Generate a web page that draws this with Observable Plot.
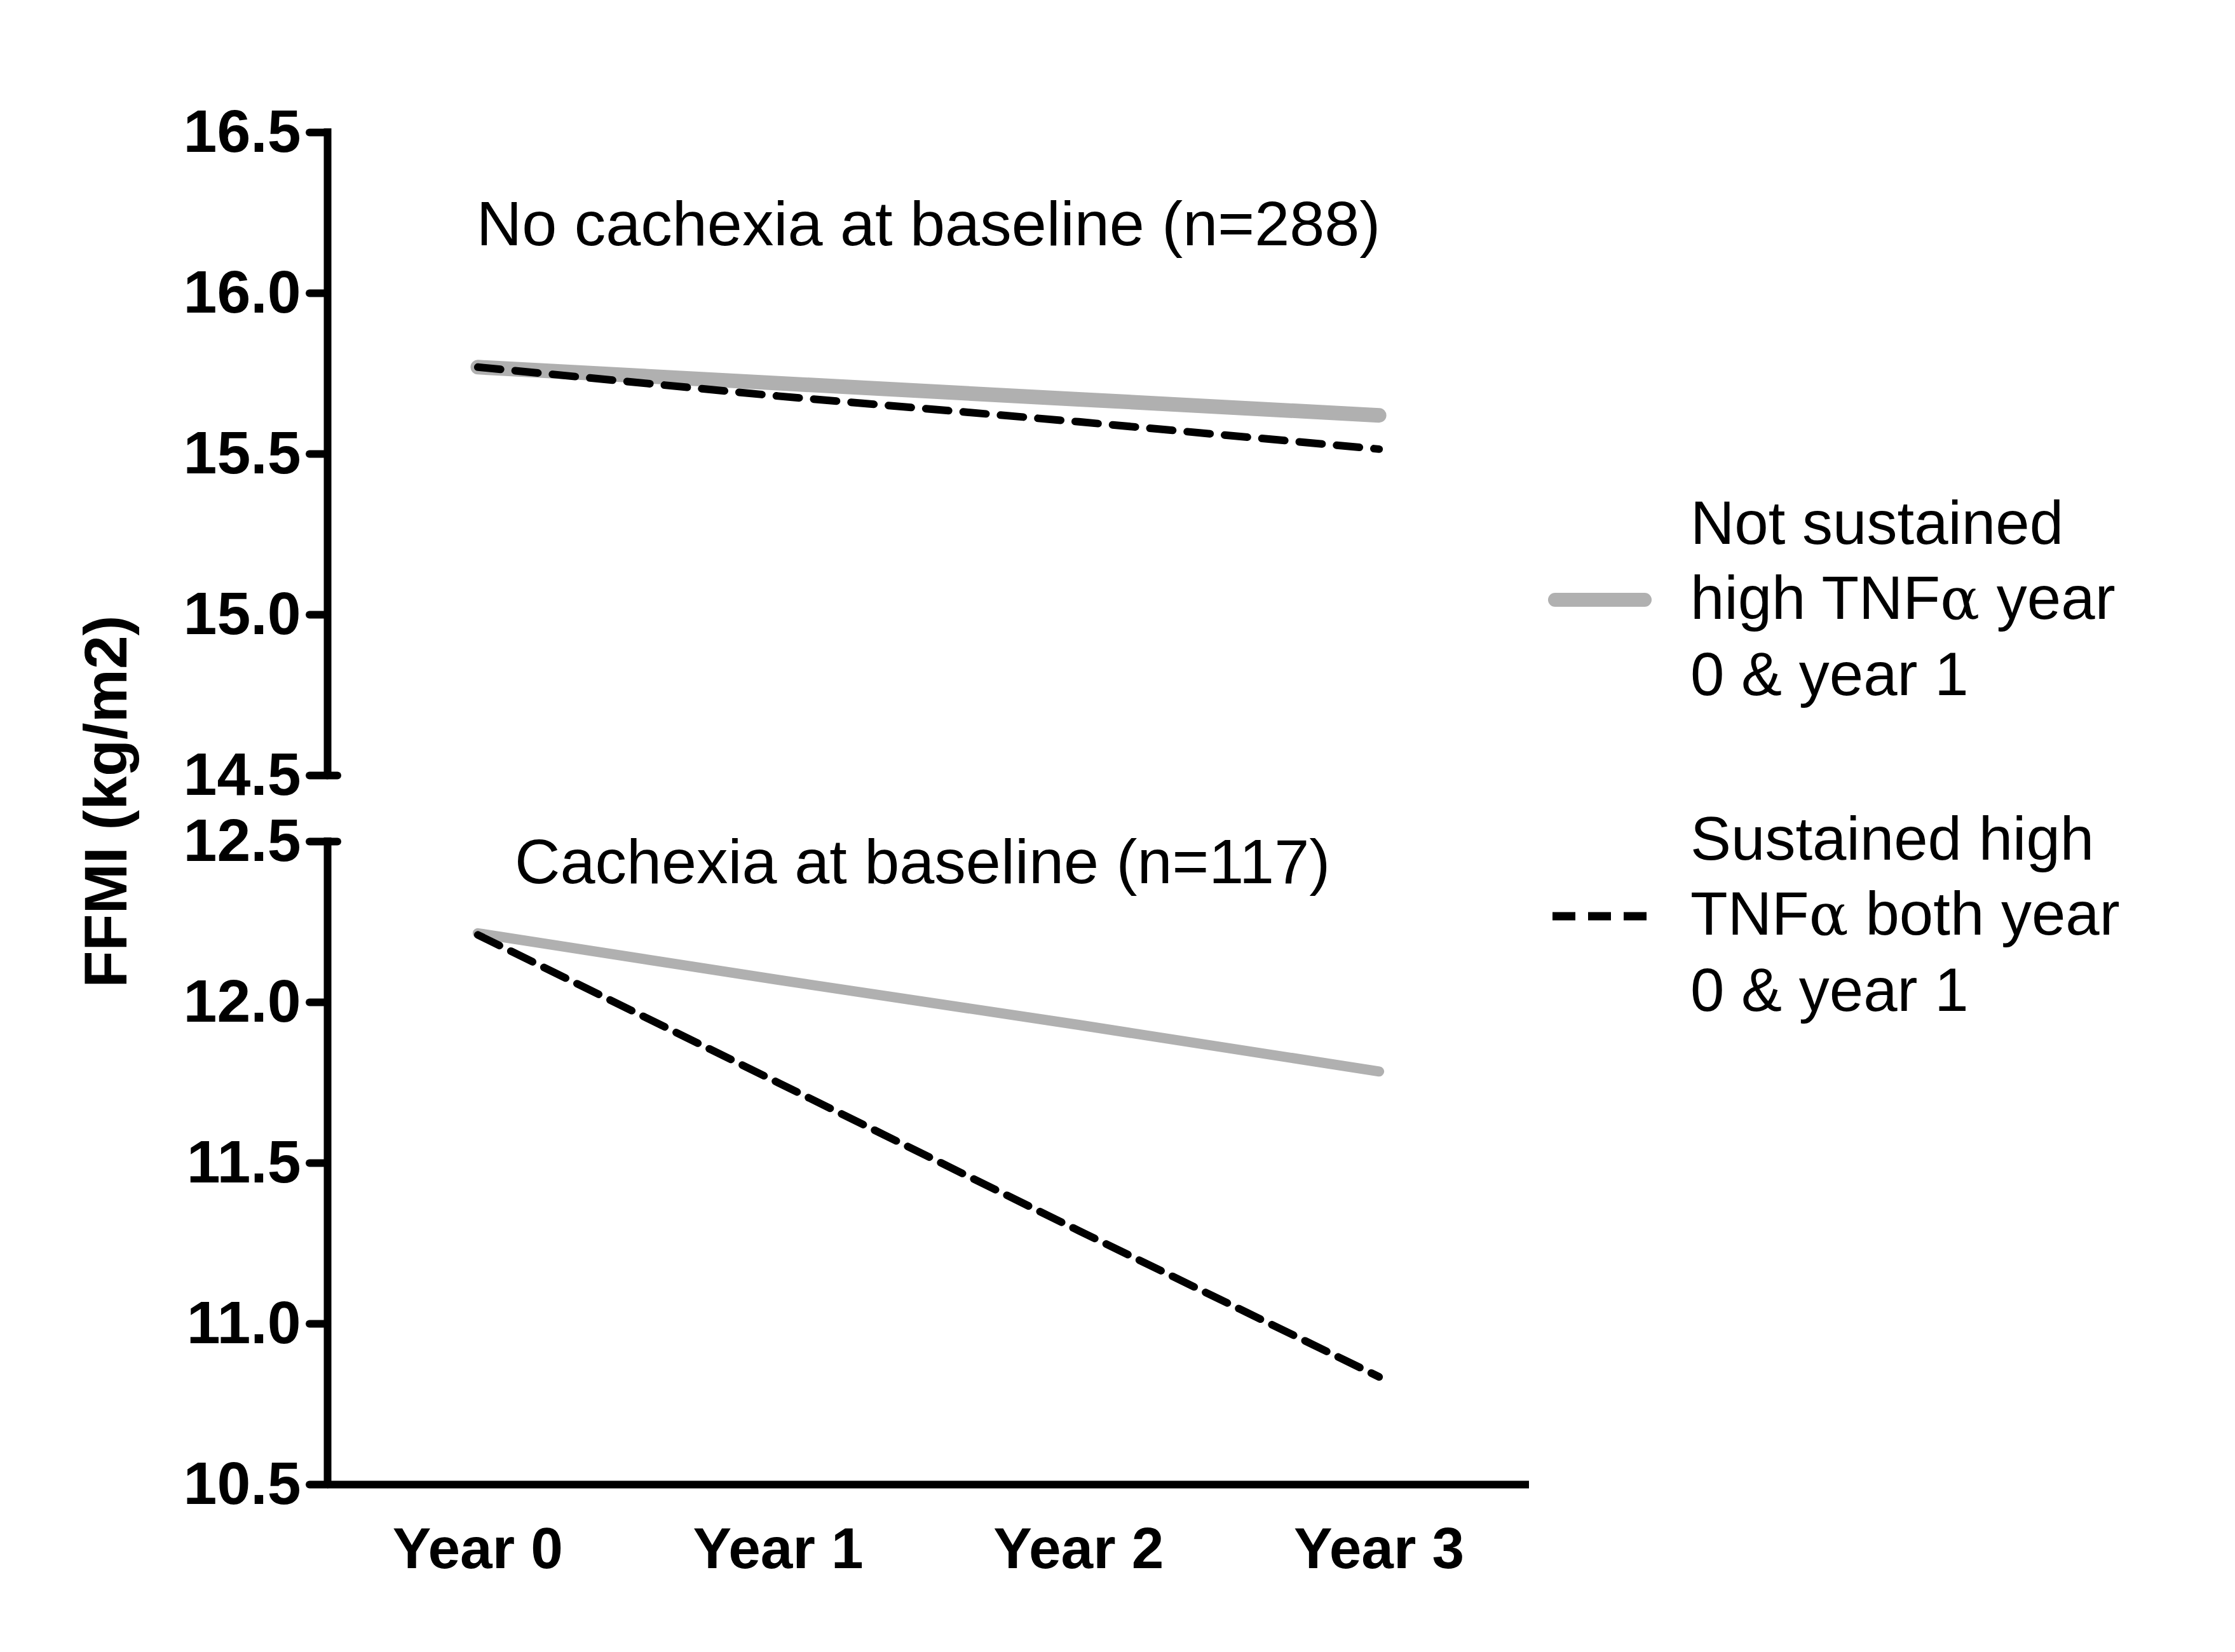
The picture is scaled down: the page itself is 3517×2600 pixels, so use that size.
<!DOCTYPE html>
<html>
<head>
<meta charset="utf-8">
<script src="https://cdn.jsdelivr.net/npm/d3@7"></script>
<script src="https://cdn.jsdelivr.net/npm/@observablehq/plot@0.6"></script>
<style>
  html, body { margin: 0; padding: 0; background: #fff; }
  #wrap { position: relative; width: 3517px; height: 2600px; background: #fff; font-family: "Liberation Sans", Arial, sans-serif; }
  #chart { position: absolute; left: 0; top: 0; }
  .leg { position: absolute; left: 2660px; font-size: 96px; line-height: 118px; color: #000; white-space: nowrap; }
  .alpha { font-family: "DejaVu Serif", "Liberation Serif", serif; font-size: 92px; }
  .sw { position: absolute; left: 0; }
</style>
</head>
<body>
<div id="wrap">
  <div id="chart"></div>
  <svg class="sw" width="3517" height="2600" style="pointer-events:none">
    <line x1="2447" y1="944" x2="2588" y2="944" stroke="#b0b0b0" stroke-width="22" stroke-linecap="round"/>
    <line x1="2443" y1="1442" x2="2592" y2="1442" stroke="#000" stroke-width="13" stroke-dasharray="36,20"/>
  </svg>
  <div class="leg" style="top:764px">Not sustained<br>high TNF<span class="alpha">α</span> year<br>0 &amp; year 1</div>
  <div class="leg" style="top:1261px">Sustained high<br>TNF<span class="alpha">α</span> both year<br>0 &amp; year 1</div>
</div>
<script>
// ---- data ----
const years = ["Year 0", "Year 1", "Year 2", "Year 3"];
const noCachexiaNotSustained = [15.77, 15.72, 15.67, 15.62];
const noCachexiaSustained    = [15.77, 15.68, 15.60, 15.515];
const cachexiaNotSustained   = [12.215, 12.07, 11.93, 11.785];
const cachexiaSustained      = [12.21, 11.75, 11.29, 10.835];
const yTicks = [10.5, 11.0, 11.5, 12.0, 12.5, 14.5, 15.0, 15.5, 16.0, 16.5];
const panelTitles = ["No cachexia at baseline (n=288)", "Cachexia at baseline (n=117)"];
const yLabel = "FFMI (kg/m2)";

// broken axis: lower segment 10.5–12.5, upper segment 14.5–16.5
const GAP = 0.206;
const pos = v => v < 13.5 ? v - 10.5 : v - 14.5 + 2 + GAP;
const tickLabel = new Map(yTicks.map(v => [pos(v), v.toFixed(1)]));

const rows = (values, group, status) => values.map((v, i) => ({year: years[i], value: v, group, status}));
const upperGray = rows(noCachexiaNotSustained, "no", "not");
const upperDash = rows(noCachexiaSustained, "no", "sus");
const lowerGray = rows(cachexiaNotSustained, "cx", "not");
const lowerDash = rows(cachexiaSustained, "cx", "sus");

const X = d => years.indexOf(d.year);
const Y = d => pos(d.value);

const segments = [
  {y1: pos(10.5), y2: pos(12.5)},
  {y1: pos(14.5), y2: pos(16.5)}
];
const titles = [
  {text: panelTitles[0], x: 1.5, y: pos(16.15)},
  {text: panelTitles[1], x: 1.48, y: pos(12.37)}
];

const chart = Plot.plot({
  width: 2500,
  height: 2600,
  marginLeft: 515,
  marginRight: 94,
  marginTop: 208,
  marginBottom: 264,
  style: {fontFamily: "Liberation Sans, Arial, sans-serif", background: "#fff", color: "#000"},
  x: {type: "linear", domain: [-0.5, 3.5]},
  y: {type: "linear", domain: [0, 4 + GAP]},
  marks: [
    // axis lines
    Plot.ruleX(segments, {x: -0.5, y1: "y1", y2: "y2", stroke: "#000", strokeWidth: 12, strokeLinecap: "square"}),
    Plot.ruleY([0], {x1: -0.5, x2: 3.5, stroke: "#000", strokeWidth: 12}),
    // break caps on the right of axis
    Plot.ruleY([pos(14.5), pos(12.5)], {x1: -0.5, x2: -0.5, insetRight: -16, stroke: "#000", strokeWidth: 12, strokeLinecap: "round"}),
    Plot.axisY({
      ticks: yTicks.map(pos),
      tickFormat: t => tickLabel.get(t),
      tickSize: 28,
      tickPadding: 14,
      strokeWidth: 12,
      strokeLinecap: "round",
      fontSize: 95,
      fontWeight: "bold",
      label: null
    }),
    Plot.axisX({
      ticks: [0, 1, 2, 3],
      tickFormat: i => years[i],
      tickSize: 0,
      tickPadding: 67,
      fontSize: 91,
      fontWeight: "bold",
      label: null
    }),
    // y label
    Plot.text([yLabel], {frameAnchor: "left", dx: -317, dy: -11, rotate: -90, textAnchor: "middle", lineAnchor: "bottom", fontSize: 95, fontWeight: "bold", fill: "#000"}),
    // panel titles
    Plot.text(titles, {x: "x", y: "y", text: "text", textAnchor: "middle", lineAnchor: "bottom", fontSize: 99, fill: "#000"}),
    // data lines
    Plot.line(upperGray, {x: X, y: Y, stroke: "#b0b0b0", strokeWidth: 23}),
    Plot.line(lowerGray, {x: X, y: Y, stroke: "#b0b0b0", strokeWidth: 16}),
    Plot.line(upperDash, {x: X, y: Y, stroke: "#000", strokeWidth: 12, strokeDasharray: "36,23"}),
    Plot.line(lowerDash, {x: X, y: Y, stroke: "#000", strokeWidth: 12, strokeDasharray: "38,20"})
  ]
});
document.getElementById("chart").appendChild(chart);
</script>
</body>
</html>
